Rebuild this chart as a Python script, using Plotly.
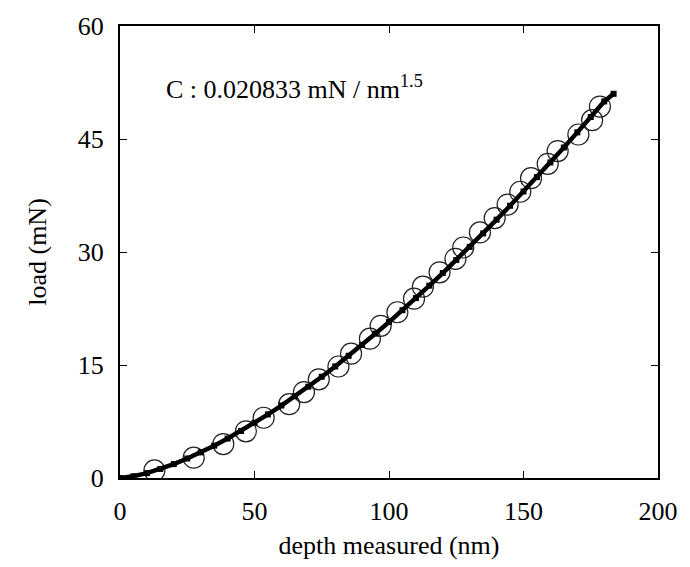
import plotly.graph_objects as go

# measured points (circles)
depth_pts = [12.8, 27.4, 38.4, 46.8, 53.4, 62.9, 68.4, 73.9, 81.2, 85.9, 92.9, 96.9,
             103.1, 109.3, 112.6, 118.8, 124.7, 127.6, 133.8, 139.3, 144.1, 148.8,
             152.8, 159.0, 162.7, 170.4, 175.5, 178.4]
load_pts = [1.0, 2.7, 4.5, 6.2, 8.0, 9.8, 11.4, 13.1, 14.8, 16.5, 18.5, 20.2,
            22.0, 23.8, 25.4, 27.3, 29.1, 30.6, 32.6, 34.5, 36.3, 38.0,
            39.8, 41.7, 43.4, 45.6, 47.5, 49.3]

# continuous curve (thick line with small squares)
depth_line = [0, 5, 10, 15, 20, 25, 30, 35, 40, 45, 50, 55, 60, 65, 70, 75, 80, 85,
              90, 95, 100, 105, 110, 115, 120, 125, 130, 135, 140, 145, 150, 155,
              160, 165, 170, 175, 180, 183.5]
load_line = [0, 0.23, 0.65, 1.20, 1.85, 2.59, 3.40, 4.29, 5.24, 6.25, 7.32, 8.44,
             9.62, 10.85, 12.12, 13.44, 14.81, 16.22, 17.67, 19.17, 20.70, 22.27,
             23.88, 25.53, 27.21, 28.93, 30.68, 32.47, 34.29, 36.14, 38.03, 39.94,
             41.89, 43.87, 45.88, 47.92, 49.99, 51.0]

x_ticks = [0, 50, 100, 150, 200]
y_ticks = [0, 15, 30, 45, 60]

font_family = "Liberation Serif"

fig = go.Figure()
fig.add_trace(go.Scatter(
    x=depth_pts, y=load_pts, mode="markers",
    marker=dict(symbol="circle-open", size=21, color="#222222", line=dict(width=1.2)),
    showlegend=False))
fig.add_trace(go.Scatter(
    x=depth_line, y=load_line, mode="lines+markers",
    line=dict(color="black", width=4.5),
    marker=dict(symbol="square", size=6, color="black"),
    showlegend=False))

fig.add_annotation(
    x=0.082, y=0.865, xref="paper", yref="paper", xanchor="left", yanchor="middle",
    text="C : 0.020833 mN / nm<sup>1.5</sup>", showarrow=False,
    font=dict(family=font_family, size=26, color="black"))

axis_common = dict(
    showline=True, linecolor="black", linewidth=2, mirror="ticks",
    ticks="inside", ticklen=7, tickwidth=1, tickcolor="black",
    showgrid=False, zeroline=False, ticklabelstandoff=9,
    tickfont=dict(family=font_family, size=26, color="black"),
)

fig.update_xaxes(range=[0, 200], tickvals=x_ticks,
                 title=dict(text="depth measured (nm)", font=dict(family=font_family, size=26, color="black"), standoff=11),
                 **axis_common)
fig.update_yaxes(range=[0, 60], tickvals=y_ticks,
                 title=dict(text="load (mN)", font=dict(family=font_family, size=26, color="black"), standoff=24),
                 **axis_common)

fig.update_layout(
    width=690, height=567,
    margin=dict(l=120, r=21, t=20, b=89),
    plot_bgcolor="white", paper_bgcolor="white",
    font=dict(family=font_family, color="black"),
)

fig.write_html("out.html")
